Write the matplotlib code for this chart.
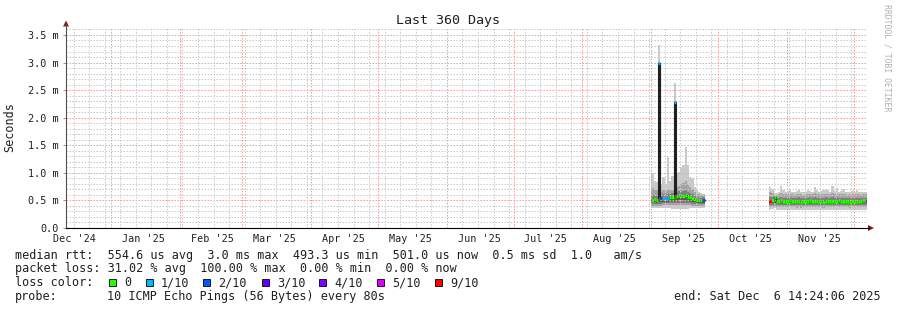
import datetime as dt

import matplotlib
matplotlib.use("Agg")
import matplotlib.pyplot as plt
import matplotlib.dates as mdates
from matplotlib.lines import Line2D
from matplotlib.patches import Polygon, Rectangle


# ==========================================================
# Data (milliseconds), one value per day
# ==========================================================

END = dt.datetime(2025, 12, 6, 14, 24, 6)
START = END - dt.timedelta(days=360)

SEG1_START = dt.datetime(2025, 9, 1)
SEG2_START = dt.datetime(2025, 10, 24)

SEG1_MED = [0.51, 0.52, 0.51, 3.00, 0.54, 0.55, 0.55, 0.55, 0.56, 0.56, 2.29, 0.58,
            0.59, 0.58, 0.58, 0.59, 0.57, 0.57, 0.55, 0.53, 0.50, 0.50, 0.50, 0.51]
SEG1_LOSS = [0, 0, 0, 1, 2, 1, 1, 1, 0, 0, 1, 0,
             0, 0, 0, 0, 0, 0, 0, 0, 0, 0, 0, 2]
SEG1_P10 = [1.00, 0.85, 0.83, 3.32, 0.80, 0.92, 0.80, 1.28, 0.85, 0.95, 2.63, 1.00,
            1.02, 1.10, 1.14, 1.47, 1.14, 0.92, 0.90, 0.74, 0.68, 0.66, 0.64, 0.62]
SEG1_P9 = [0.72, 0.68, 0.68, 0.70, 0.66, 0.68, 0.67, 0.70, 0.68, 0.69, 0.72, 0.74,
           0.76, 0.79, 0.82, 0.86, 0.80, 0.74, 0.70, 0.65, 0.62, 0.61, 0.60, 0.60]
SEG1_P8 = [0.60, 0.59, 0.58, 0.62, 0.60, 0.61, 0.61, 0.62, 0.62, 0.63, 0.64, 0.65,
           0.67, 0.66, 0.67, 0.69, 0.66, 0.64, 0.61, 0.58, 0.56, 0.55, 0.55, 0.56]
SEG1_P7 = [0.53, 0.54, 0.53, 0.56, 0.56, 0.57, 0.57, 0.57, 0.58, 0.58, 0.60, 0.60,
           0.61, 0.60, 0.60, 0.61, 0.59, 0.59, 0.57, 0.55, 0.52, 0.52, 0.52, 0.53]
SEG1_P4 = [0.47, 0.47, 0.46, 0.47, 0.48, 0.48, 0.48, 0.48, 0.49, 0.49, 0.49, 0.50,
           0.50, 0.50, 0.50, 0.50, 0.49, 0.49, 0.48, 0.47, 0.46, 0.46, 0.46, 0.46]
SEG1_P3 = [0.44, 0.44, 0.43, 0.44, 0.44, 0.45, 0.45, 0.45, 0.45, 0.45, 0.45, 0.46,
           0.46, 0.46, 0.46, 0.46, 0.45, 0.45, 0.44, 0.44, 0.43, 0.43, 0.43, 0.43]
SEG1_P2 = [0.40, 0.40, 0.40, 0.40, 0.40, 0.41, 0.41, 0.41, 0.41, 0.41, 0.41, 0.41,
           0.41, 0.41, 0.41, 0.41, 0.41, 0.41, 0.40, 0.40, 0.40, 0.40, 0.40, 0.40]
SEG1_P1 = [0.37, 0.37, 0.36, 0.36, 0.36, 0.36, 0.36, 0.36, 0.36, 0.35, 0.35, 0.35,
           0.35, 0.35, 0.35, 0.35, 0.35, 0.36, 0.36, 0.36, 0.36, 0.36, 0.37, 0.37]

SEG2_MED = [0.49, 0.50, 0.57, 0.49, 0.49, 0.50, 0.49, 0.49, 0.49, 0.50, 0.49,
            0.49, 0.49, 0.49, 0.48, 0.49, 0.49, 0.49, 0.50, 0.49, 0.49, 0.49,
            0.49, 0.49, 0.48, 0.49, 0.49, 0.49, 0.49, 0.49, 0.49, 0.50, 0.49,
            0.49, 0.49, 0.49, 0.48, 0.49, 0.49, 0.49, 0.49, 0.49, 0.50, 0.49]
SEG2_LOSS = [6, 0, 0, 0, 0, 0, 0, 0, 0, 0, 0,
             0, 0, 0, 0, 0, 0, 0, 0, 0, 0, 0,
             0, 0, 0, 0, 0, 0, 0, 0, 0, 0, 0,
             0, 0, 0, 0, 0, 0, 0, 0, 0, 0, 0]
SEG2_P10 = [0.74, 0.70, 0.64, 0.63, 0.66, 0.77, 0.68, 0.66, 0.67, 0.68, 0.66,
            0.65, 0.67, 0.68, 0.66, 0.65, 0.66, 0.68, 0.67, 0.66, 0.74, 0.68,
            0.66, 0.67, 0.68, 0.70, 0.68, 0.66, 0.77, 0.67, 0.72, 0.66, 0.67,
            0.70, 0.66, 0.65, 0.66, 0.67, 0.66, 0.68, 0.66, 0.65, 0.66, 0.66]
SEG2_P9 = [0.66, 0.63, 0.60, 0.60, 0.61, 0.63, 0.62, 0.61, 0.61, 0.62, 0.61,
           0.60, 0.61, 0.62, 0.61, 0.60, 0.61, 0.62, 0.61, 0.61, 0.63, 0.62,
           0.61, 0.61, 0.62, 0.62, 0.61, 0.61, 0.63, 0.61, 0.62, 0.61, 0.61,
           0.62, 0.61, 0.60, 0.61, 0.61, 0.61, 0.62, 0.61, 0.60, 0.61, 0.61]
SEG2_P8 = [0.57, 0.56, 0.58, 0.55, 0.55, 0.56, 0.55, 0.55, 0.55, 0.56, 0.55,
           0.55, 0.55, 0.56, 0.55, 0.54, 0.55, 0.55, 0.56, 0.55, 0.56, 0.55,
           0.55, 0.55, 0.55, 0.56, 0.55, 0.55, 0.56, 0.55, 0.56, 0.55, 0.55,
           0.55, 0.55, 0.54, 0.55, 0.55, 0.55, 0.55, 0.55, 0.54, 0.55, 0.55]
SEG2_P7 = [0.51, 0.52, 0.56, 0.51, 0.51, 0.52, 0.51, 0.51, 0.51, 0.52, 0.51,
           0.51, 0.51, 0.51, 0.50, 0.51, 0.51, 0.51, 0.52, 0.51, 0.51, 0.51,
           0.51, 0.51, 0.50, 0.51, 0.51, 0.51, 0.51, 0.51, 0.51, 0.52, 0.51,
           0.51, 0.51, 0.51, 0.50, 0.51, 0.51, 0.51, 0.51, 0.51, 0.52, 0.51]
SEG2_P4 = [0.45, 0.45, 0.46, 0.45, 0.45, 0.45, 0.45, 0.45, 0.45, 0.45, 0.45,
           0.45, 0.45, 0.45, 0.44, 0.45, 0.45, 0.45, 0.45, 0.45, 0.45, 0.45,
           0.45, 0.45, 0.44, 0.45, 0.45, 0.45, 0.45, 0.45, 0.45, 0.45, 0.45,
           0.45, 0.45, 0.45, 0.44, 0.45, 0.45, 0.45, 0.45, 0.45, 0.45, 0.45]
SEG2_P3 = [0.42, 0.42, 0.43, 0.42, 0.42, 0.42, 0.42, 0.42, 0.42, 0.42, 0.42,
           0.42, 0.41, 0.42, 0.41, 0.42, 0.42, 0.42, 0.42, 0.42, 0.42, 0.42,
           0.42, 0.42, 0.41, 0.42, 0.42, 0.42, 0.42, 0.42, 0.42, 0.42, 0.42,
           0.42, 0.42, 0.42, 0.41, 0.42, 0.42, 0.42, 0.42, 0.42, 0.42, 0.42]
SEG2_P2 = [0.38, 0.38, 0.39, 0.38, 0.38, 0.38, 0.38, 0.38, 0.38, 0.38, 0.38,
           0.38, 0.37, 0.38, 0.37, 0.38, 0.38, 0.38, 0.38, 0.38, 0.38, 0.38,
           0.38, 0.38, 0.37, 0.38, 0.38, 0.38, 0.38, 0.38, 0.38, 0.38, 0.38,
           0.38, 0.38, 0.38, 0.37, 0.38, 0.38, 0.38, 0.38, 0.38, 0.38, 0.38]
SEG2_P1 = [0.33, 0.34, 0.36, 0.33, 0.33, 0.33, 0.33, 0.33, 0.33, 0.33, 0.33,
           0.33, 0.32, 0.33, 0.32, 0.33, 0.33, 0.33, 0.33, 0.33, 0.33, 0.33,
           0.33, 0.33, 0.32, 0.33, 0.33, 0.33, 0.33, 0.33, 0.33, 0.33, 0.33,
           0.33, 0.33, 0.33, 0.32, 0.33, 0.33, 0.33, 0.33, 0.33, 0.33, 0.33]

LOSS_COLORS = ["#26ff00", "#00b8ff", "#0059ff", "#5e00ff", "#7e00ff", "#dd00ff", "#ff0000"]
LOSS_LABELS = ["0", "1/10", "2/10", "3/10", "4/10", "5/10", "9/10"]
SMOKE_COLORS = ["#cacaca", "#a4a4a4", "#7e7e7e", "#585858"]

Y_TICKS = [0.0, 0.5, 1.0, 1.5, 2.0, 2.5, 3.0, 3.5]
Y_TICK_LABELS = ["0.0", "0.5 m", "1.0 m", "1.5 m", "2.0 m", "2.5 m", "3.0 m", "3.5 m"]
MONTH_LABELS = ["Dec '24", "Jan '25", "Feb '25", "Mar '25", "Apr '25", "May '25",
                "Jun '25", "Jul '25", "Aug '25", "Sep '25", "Oct '25", "Nov '25"]

LEGEND_MEDIAN = ("median rtt:  554.6 us avg  3.0 ms max  493.3 us min  "
                 "501.0 us now  0.5 ms sd  1.0   am/s")
LEGEND_LOSS = "packet loss: 31.02 % avg  100.00 % max  0.00 % min  0.00 % now"
PROBE_TEXT = "10 ICMP Echo Pings (56 Bytes) every 80s"
END_TEXT = "end: Sat Dec  6 14:24:06 2025"

# ==========================================================
# Figure layout (pixel helpers)
# ==========================================================

W, H = 897, 310
plt.rcParams["font.family"] = "DejaVu Sans Mono"


def fx(x):
    return x / W


def fy(y):
    return 1 - y / H


fig = plt.figure(figsize=(W / 100, H / 100), dpi=100)
fig.patch.set_facecolor("white")

ax = fig.add_axes([fx(66), fy(228), 800 / W, (228 - 26.7) / H])
ax.set_facecolor("white")
for s in ax.spines.values():
    s.set_visible(False)

x0 = mdates.date2num(START)
x1 = mdates.date2num(END)
ax.set_xlim(x0, x1)
ax.set_ylim(0, 3.65)

# ==========================================================
# Grid (drawn over the smoke, like rrdtool)
# ==========================================================

GRID_MINOR = dict(color="#cccccc", lw=0.72, ls=(0, (1.5, 1.5)), zorder=3, snap=True)
GRID_MAJOR = dict(color="#f0a0a0", lw=0.72, ls=(0, (1.5, 1.5)), zorder=3, snap=True)

for i in range(1, 37):
    v = i / 10
    if i % 5 == 0:
        ax.axhline(v, **GRID_MAJOR)
    else:
        ax.axhline(v, **GRID_MINOR)

day = dt.datetime(2024, 12, 15)
while day < END:
    if day.day != 1:
        ax.axvline(mdates.date2num(day), **GRID_MINOR)
    day += dt.timedelta(days=7)

month_starts = []
label_pos = []
y, m = 2024, 12
while True:
    first = dt.datetime(y, m, 1)
    if first > END:
        break
    if first > START:
        month_starts.append(first)
    mid = dt.datetime(y, m, 15, 12)
    if mid < END:
        label_pos.append(mdates.date2num(mid))
    m += 1
    if m == 13:
        y, m = y + 1, 1

for d in month_starts:
    ax.axvline(mdates.date2num(d), **GRID_MAJOR)

# ==========================================================
# Smoke + median
# ==========================================================


def draw_segment(start, med, loss, bands):
    n = len(med)
    xs = [mdates.date2num(start + dt.timedelta(days=i)) for i in range(n + 1)]
    for (lo, hi), color in zip(bands, SMOKE_COLORS):
        ax.fill_between(xs, lo + [lo[-1]], hi + [hi[-1]], step="post",
                        color=color, lw=0, zorder=2)
    p7 = bands[-1][1]
    for i in range(n):
        if med[i] > p7[i] + 0.05:
            ax.fill_between([xs[i], xs[i + 1]], [p7[i]] * 2, [med[i]] * 2,
                            color="#202020", lw=0, zorder=4)
    ax.plot(xs, med + [med[-1]], drawstyle="steps-post", color="#202020",
            lw=0.8, zorder=4)
    ax.hlines(med, xs[:-1], xs[1:], colors=[LOSS_COLORS[k] for k in loss],
              lw=2.3, zorder=5)


draw_segment(SEG1_START, SEG1_MED, SEG1_LOSS,
             [(SEG1_P1, SEG1_P10), (SEG1_P2, SEG1_P9),
              (SEG1_P3, SEG1_P8), (SEG1_P4, SEG1_P7)])
draw_segment(SEG2_START, SEG2_MED, SEG2_LOSS,
             [(SEG2_P1, SEG2_P10), (SEG2_P2, SEG2_P9),
              (SEG2_P3, SEG2_P8), (SEG2_P4, SEG2_P7)])

# ==========================================================
# Ticks and labels
# ==========================================================

ax.set_yticks(Y_TICKS, Y_TICK_LABELS)
ax.set_xticks(label_pos, MONTH_LABELS)
ax.tick_params(axis="y", length=2, width=0.7, color="#c08080", pad=3.2,
               labelsize=7.3, labelcolor="#202020")
ax.tick_params(axis="x", length=0, pad=4.2, labelsize=7.3, labelcolor="#202020")

# axis lines and arrows
fig.add_artist(Line2D([fx(66), fx(66)], [fy(228), fy(24)], color="#505050", lw=0.8))
fig.add_artist(Line2D([fx(66), fx(869)], [fy(228), fy(228)], color="#000000", lw=0.8))
fig.add_artist(Polygon([(fx(63), fy(26.5)), (fx(69), fy(26.5)), (fx(66), fy(20.5))],
                       closed=True, transform=fig.transFigure, color="#8b1a1a", lw=0))
fig.add_artist(Polygon([(fx(868), fy(225)), (fx(868), fy(231)), (fx(874), fy(228))],
                       closed=True, transform=fig.transFigure, color="#8b1a1a", lw=0))

fig.text(fx(448), fy(24), "Last 360 Days", ha="center", va="baseline",
         fontsize=9.6, color="#202020")
fig.text(fx(10), fy(127), "Seconds", rotation=90, ha="center", va="center",
         fontsize=8.5, color="#202020")
fig.text(fx(887), fy(4), "RRDTOOL / TOBI OETIKER", rotation=270, ha="center",
         va="top", fontsize=5.9, color="#b0b0b0")

# ==========================================================
# Legend block
# ==========================================================

fig.text(fx(15), fy(258.5), LEGEND_MEDIAN, va="baseline", fontsize=8.5, color="#202020")
fig.text(fx(15), fy(272.3), LEGEND_LOSS, va="baseline", fontsize=8.5, color="#202020")
fig.text(fx(15), fy(286), "loss color:", va="baseline", fontsize=8.5, color="#202020")
fig.text(fx(15), fy(299.8), "probe:", va="baseline", fontsize=8.5, color="#202020")
fig.text(fx(107), fy(299.8), PROBE_TEXT, va="baseline", fontsize=8.5, color="#202020")
fig.text(fx(881), fy(299.8), END_TEXT, ha="right", va="baseline", fontsize=8.5,
         color="#202020")

box_x = [109, 146, 203, 262, 319, 377, 435]
for bx, color, label in zip(box_x, LOSS_COLORS, LOSS_LABELS):
    fig.add_artist(Rectangle((fx(bx), fy(286)), 7 / W, 7 / H, transform=fig.transFigure,
                             facecolor=color, edgecolor="black", lw=0.6))
    fig.text(fx(bx + 15), fy(286), label, va="baseline", fontsize=8.5, color="#202020")

fig.savefig("out.png", dpi=100)
